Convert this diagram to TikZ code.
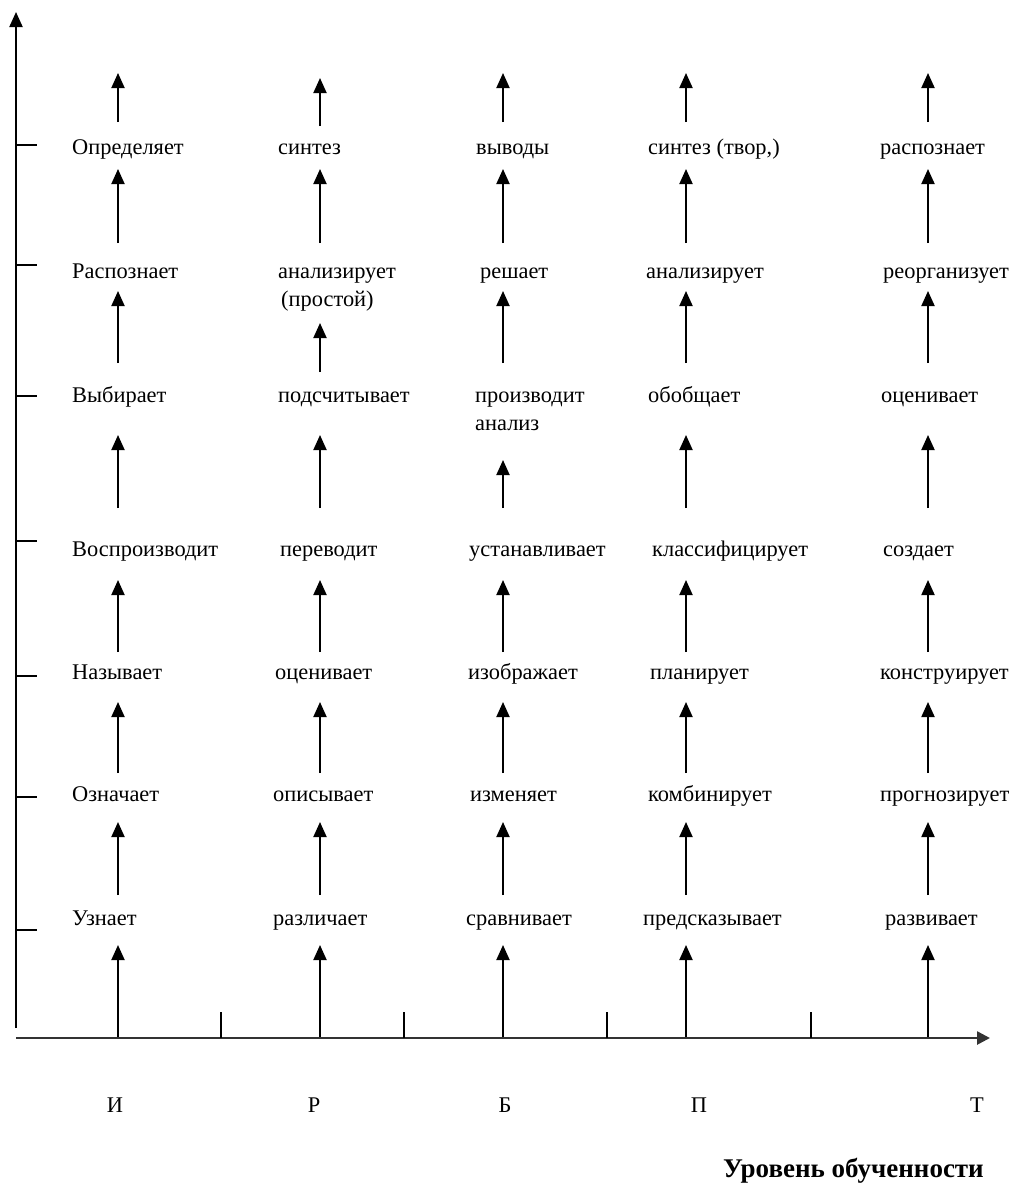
\documentclass[tikz,border=0pt]{standalone}
\usepackage{fontspec}
\setmainfont{Liberation Serif}
\usetikzlibrary{arrows.meta}
\begin{document}
\begin{tikzpicture}[x=1pt,y=-1pt,
  lbl/.style={anchor=base west, inner sep=0pt, font=\fontsize{22.4}{27}\selectfont},
  axlbl/.style={anchor=base, inner sep=0pt, font=\fontsize{22.4}{27}\selectfont},
  arr/.style={line width=1.9pt, -{Triangle[length=15pt,width=13pt]}},
  yaxis/.style={line width=2pt, -{Triangle[length=15pt,width=13pt]}},
  xaxis/.style={line width=2.6pt, black!80, -{Triangle[length=13pt,width=13pt]}},
  tick/.style={line width=1.4pt}]
\useasboundingbox (0,0) rectangle (1013,1186);

% axes
\coordinate (yb) at (16,1028);
\coordinate (yt) at (16,12);
\coordinate (xo) at (16,1038);
\coordinate (xe) at (990,1038);
\draw[yaxis] (yb) -- (yt);
\draw[xaxis] (xo) -- (xe);

% y ticks
\foreach \k/\y in {1/145,2/265,3/396,4/541,5/676,6/797,7/930}{
  \coordinate (ya\k) at (16,\y);
  \coordinate (yb\k) at (37,\y);
  \draw[tick] (ya\k) -- (yb\k);
}
% x ticks
\foreach \k/\x in {1/221,2/404,3/607,4/811}{
  \coordinate (xa\k) at (\x,1038);
  \coordinate (xb\k) at (\x,1012);
  \draw[tick] (xa\k) -- (xb\k);
}

% arrow end points
\foreach \c/\x in {1/118,2/320,3/503,4/686,5/928}{
  \foreach \i/\b/\t in {1/122/73,2/243/169,3/363/291,4/508/435,5/652/580,6/773/702,7/895/822,8/1037/945}{
    \coordinate (s\c-\i) at (\x,\b);
    \coordinate (t\c-\i) at (\x,\t);
  }
}
\coordinate (s2-1) at (320,126);
\coordinate (t2-1) at (320,78);
\coordinate (s2-3) at (320,372);
\coordinate (t2-3) at (320,323);
\coordinate (s3-4) at (503,508);
\coordinate (t3-4) at (503,460);
\foreach \c in {1,...,5}{
  \foreach \i in {1,...,8}{
    \draw[arr] (s\c-\i) -- (t\c-\i);
  }
}

% column 1
\node[lbl] (a1) at (72,154) {Определяет};
\node[lbl] (a2) at (72,278) {Распознает};
\node[lbl] (a3) at (72,402) {Выбирает};
\node[lbl] (a4) at (72,556) {Воспроизводит};
\node[lbl] (a5) at (72,679) {Называет};
\node[lbl] (a6) at (72,801) {Означает};
\node[lbl] (a7) at (72,925) {Узнает};
% column 2
\node[lbl] (b1) at (278,154) {синтез};
\node[lbl] (b2) at (278,278) {анализирует};
\node[lbl] (b2b) at (281,306) {(простой)};
\node[lbl] (b3) at (278,402) {подсчитывает};
\node[lbl] (b4) at (280,556) {переводит};
\node[lbl] (b5) at (275,679) {оценивает};
\node[lbl] (b6) at (273,801) {описывает};
\node[lbl] (b7) at (273,925) {различает};
% column 3
\node[lbl] (c1) at (476,154) {выводы};
\node[lbl] (c2) at (480,278) {решает};
\node[lbl] (c3) at (475,402) {производит};
\node[lbl] (c3b) at (475,430) {анализ};
\node[lbl] (c4) at (469,556) {устанавливает};
\node[lbl] (c5) at (468,679) {изображает};
\node[lbl] (c6) at (470,801) {изменяет};
\node[lbl] (c7) at (466,925) {сравнивает};
% column 4
\node[lbl] (d1) at (648,154) {синтез (твор,)};
\node[lbl] (d2) at (646,278) {анализирует};
\node[lbl] (d3) at (648,402) {обобщает};
\node[lbl] (d4) at (652,556) {классифицирует};
\node[lbl] (d5) at (650,679) {планирует};
\node[lbl] (d6) at (648,801) {комбинирует};
\node[lbl] (d7) at (643,925) {предсказывает};
% column 5
\node[lbl] (e1) at (880,154) {распознает};
\node[lbl] (e2) at (883,278) {реорганизует};
\node[lbl] (e3) at (881,402) {оценивает};
\node[lbl] (e4) at (883,556) {создает};
\node[lbl] (e5) at (880,679) {конструирует};
\node[lbl] (e6) at (880,801) {прогнозирует};
\node[lbl] (e7) at (885,925) {развивает};

% axis labels
\node[axlbl] (lI) at (115,1112) {И};
\node[axlbl] (lR) at (314,1112) {Р};
\node[axlbl] (lB) at (505,1112) {Б};
\node[axlbl] (lP) at (699,1112) {П};
\node[axlbl] (lT) at (977,1112) {Т};
\node[anchor=base east, inner sep=0pt, font=\fontsize{27}{32}\selectfont\bfseries] (lev) at (984,1177) {Уровень обученности};
\end{tikzpicture}
\end{document}
